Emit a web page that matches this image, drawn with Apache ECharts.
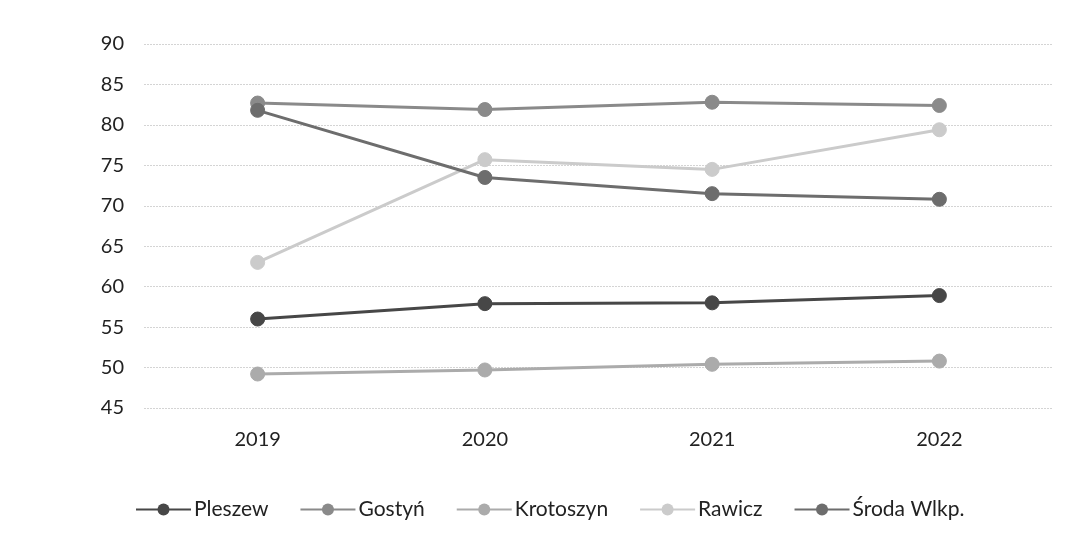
<!DOCTYPE html>
<html><head><meta charset="utf-8">
<script src="https://cdn.jsdelivr.net/npm/echarts@6/dist/echarts.min.js"></script>
<style>html,body{margin:0;padding:0;background:#fff}#c{width:1076px;height:533px}</style>
</head><body><div id="c"></div>
<script>
const categories = ['2019', '2020', '2021', '2022'];
const seriesNames = ['Pleszew', 'Gostyń', 'Krotoszyn', 'Rawicz', 'Środa Wlkp.'];
const pleszew = [56.0, 57.9, 58.0, 58.9];
const gostyn = [82.7, 81.9, 82.8, 82.4];
const krotoszyn = [49.2, 49.7, 50.4, 50.8];
const rawicz = [63.0, 75.7, 74.5, 79.4];
const sroda = [81.8, 73.5, 71.5, 70.8];
const yTicks = [45, 50, 55, 60, 65, 70, 75, 80, 85, 90];

const values = [pleszew, gostyn, krotoszyn, rawicz, sroda];
const colors = ['#474747', '#8a8a8a', '#ababab', '#cbcbcb', '#6d6d6d'];
const font = 'Lato, "Open Sans", sans-serif';

const chart = echarts.init(document.getElementById('c'));
chart.setOption({
  animation: false,
  backgroundColor: '#fff',
  grid: { left: 144, right: 23, top: 44, bottom: 125 },
  legend: {
    top: 494, left: 130,
    itemWidth: 55, itemHeight: 15, itemGap: 31,
    textStyle: { fontFamily: font, fontSize: 21, color: '#222', padding: [0, 0, 0, -2] },
    data: seriesNames
  },
  xAxis: {
    type: 'category', data: categories, boundaryGap: true,
    axisLine: { show: false }, axisTick: { show: false },
    axisLabel: { fontFamily: font, fontSize: 20, color: '#222', margin: 22 }
  },
  yAxis: {
    type: 'value', min: yTicks[0], max: yTicks[yTicks.length - 1], interval: 5,
    axisLine: { show: false }, axisTick: { show: false },
    axisLabel: { fontFamily: font, fontSize: 20, color: '#222', margin: 20 },
    splitLine: { lineStyle: { color: '#d4d4d4', width: 1, type: [2, 1] } }
  },
  series: seriesNames.map((n, i) => ({
    name: n, type: 'line', data: values[i],
    symbol: 'circle', symbolSize: 14,
    lineStyle: { color: colors[i], width: 3 },
    itemStyle: { color: colors[i], borderColor: colors[i] }
  }))
});
</script></body></html>
